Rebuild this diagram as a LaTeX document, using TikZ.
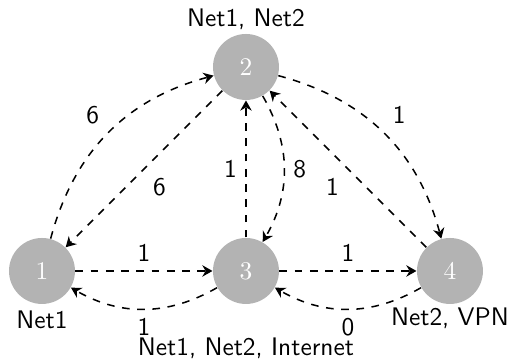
\documentclass[tikz,border=0pt]{standalone}
\definecolor{netgray}{RGB}{179,179,179}
\usepackage{tikz}
\usetikzlibrary{arrows.meta, positioning}

\begin{document}
\begin{tikzpicture}[font=\sffamily, node distance=2.823cm, on grid,
    netnode/.style={circle, fill=netgray, text=white, font=\rmfamily, minimum size=0.913cm, inner sep=0pt},
    every label/.style={font=\sffamily, inner sep=2.5pt, text depth=0pt},
    link/.style={dashed, semithick, -{Stealth[length=4pt, width=4.5pt]}},
    every edge quotes/.style={auto}]
        \useasboundingbox (-0.581,-1.273) rectangle (6.463,3.750);
        \node[netnode, label=below:Net1] (n1) {1};
        \node[netnode, right=of n1, label={[label distance=10.5pt]below:{Net1, Net2, Internet}}] (n3) {3};
        \node[netnode, right=of n3, label={[label distance=-1.5pt]below:{Net2, VPN}}] (n4) {4};
        \node[netnode, above=of n3, label=above:{Net1, Net2}] (n2) {2};
        \draw[link] (n1) to[bend left=30] node[auto] {6} (n2);
        \draw[link] (n2) to node[auto] {6} (n1);
        \draw[link] (n3) to node[auto] {1} (n2);
        \draw[link] (n2) to[bend left=30] node[auto] {8} (n3);
        \draw[link] (n2) to[bend left=30] node[auto] {1} (n4);
        \draw[link] (n4) to node[auto] {1} (n2);
        \draw[link] (n1) to node[auto] {1} (n3);
        \draw[link] (n3) to[bend left=30] node[auto] {1} (n1);
        \draw[link] (n3) to node[auto] {1} (n4);
        \draw[link] (n4) to[bend left=30] node[auto] {0} (n3);
      \end{tikzpicture}
\end{document}
